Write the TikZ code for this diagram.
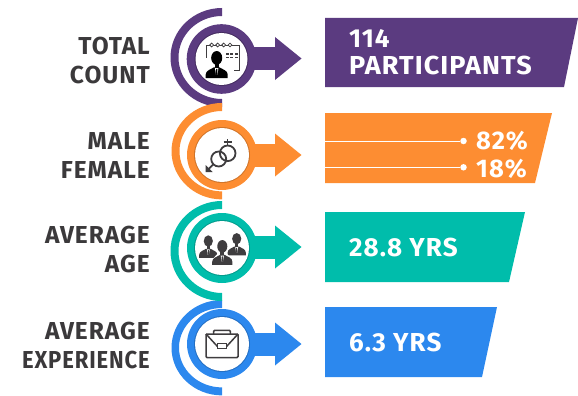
\documentclass[tikz,border=0pt]{standalone}
\usepackage{fontspec}
\setmainfont[LetterSpace=4]{Fira Sans}
\usetikzlibrary{calc}
\definecolor{cpurple}{HTML}{5B3B80}
\definecolor{corange}{HTML}{FD8D32}
\definecolor{cteal}{HTML}{00BDAB}
\definecolor{cblue}{HTML}{2C88EE}
\definecolor{cdark}{HTML}{3B393B}
\definecolor{cicon}{HTML}{3F3D3F}
\tikzset{
  labeltext/.style={font=\fontsize{24.5}{29}\selectfont\bfseries,text=cdark,align=right,anchor=east,inner sep=0pt},
  bartext/.style={font=\fontsize{26}{27}\selectfont\bfseries,text=white,align=left,anchor=west,inner sep=0pt},
  pct/.style={font=\fontsize{25.5}{29}\selectfont\bfseries,text=white,anchor=west,inner sep=0pt},
  whitedisc/.style={circle,fill=white,draw=none,minimum size=52pt,inner sep=0pt},
  leader/.style={draw=white,line width=0.8pt},
  dotmark/.style={circle,fill=white,minimum size=6.5pt,inner sep=0pt},
  iconline/.style={draw=cicon,line width=1.8pt},
  pics/bust/.style={code={
    \fill[#1] (0,-6.6) ellipse (4.8 and 6);
    \fill[#1] (-1.8,-2) rectangle (1.8,3);
    \fill[#1] (-9.6,11) -- (-9.6,8) .. controls (-9.6,4.2) and (-5,3.4) .. (-2.4,1.6) -- (2.4,1.6)
       .. controls (5,3.4) and (9.6,4.2) .. (9.6,8) -- (9.6,11) -- cycle;
    \fill[white] (-1.5,2.2) -- (1.5,2.2) -- (0.6,8) -- (-0.6,8) -- cycle;
    \fill[#1] (-0.5,3) -- (0.5,3) -- (0.7,7) -- (0,9) -- (-0.7,7) -- cycle;
  }},
  pics/busthalo/.style={code={
    \fill[white] (0,-6.6) ellipse (5.8 and 7);
    \fill[white] (-10.8,12) -- (-10.8,7) -- (-4,0) -- (4,0) -- (10.8,7) -- (10.8,12) -- cycle;
  }}
}
\newcommand{\rowarrow}[3]{% colour, ring x, axis y
  \fill[#1] (#2,#3-11.5) rectangle (275,#3+11.5);
  \fill[#1] (275,#3-21.5) -- (301.5,#3) -- (275,#3+21.5) -- cycle;
}
\begin{document}
\begin{tikzpicture}[x=1pt,y=-1pt]
\useasboundingbox (0,0) rectangle (578,396);
% outer arcs
\fill[cpurple] (222,8) arc[start angle=270,end angle=90,x radius=51.5,y radius=49.5]
   -- ++(0,-8) arc[start angle=90,end angle=270,x radius=43.5,y radius=41.5] -- cycle;
\fill[cblue] (222,300) arc[start angle=270,end angle=90,x radius=50.5,y radius=47.7]
   -- ++(0,-8) arc[start angle=90,end angle=270,x radius=43,y radius=39.7] -- cycle;
\fill[cteal] (222,201) arc[start angle=270,end angle=90,x radius=51.5,y radius=50]
   -- ++(0,-8) arc[start angle=90,end angle=270,x radius=43.5,y radius=42] -- cycle;
\fill[corange] (222,103) arc[start angle=270,end angle=90,x radius=50.5,y radius=48.2]
   -- ++(0,-8) arc[start angle=90,end angle=270,x radius=42.5,y radius=40.2] -- cycle;
% arrows
\rowarrow{cpurple}{221}{58.5}
\rowarrow{corange}{221}{155}
\rowarrow{cteal}{221}{247}
\rowarrow{cblue}{221}{344}
% rings
\fill[cpurple] (221.5,59) circle (34.8);
\fill[corange] (222,155) circle (35);
\fill[cteal] (222,248) circle (35);
\fill[cblue] (222,344) circle (35);
\fill[black!25!cpurple] (221.5,59) circle (27);
\fill[black!18!corange] (222,155) circle (28);
\fill[black!18!cteal] (222,248) circle (28);
\fill[black!18!cblue] (222,344) circle (28);
\node[whitedisc] (d1) at (221.5,59) {};
\node[whitedisc,minimum size=54pt] (d2) at (222,155) {};
\node[whitedisc,minimum size=54pt] (d3) at (222,248) {};
\node[whitedisc,minimum size=54pt] (d4) at (222,344) {};
% bars
\fill[cpurple] (325,18) -- (578,18) -- (564,87) -- (325,87) -- cycle;
\fill[corange] (325,113) -- (552,113) -- (535,183) -- (325,183) -- cycle;
\fill[cteal] (325,212) -- (525,212) -- (509,282) -- (325,282) -- cycle;
\fill[cblue] (325,307) -- (497,307) -- (482,377) -- (325,377) -- cycle;
% labels
\node[labeltext] (l1) at (150,61) {TOTAL\\COUNT};
\node[labeltext] (l2) at (150,156) {MALE\\FEMALE};
\node[labeltext] (l3) at (150,250) {AVERAGE\\AGE};
\node[labeltext] (l4) at (150,346) {AVERAGE\\\scalebox{0.9}[1]{EXPERIENCE}};
% bar text
\node[bartext] (b1) at (349,52.5) {114\\\scalebox{1.04}[1]{PARTICIPANTS}};
\node[bartext] (b3) at (349,247) {28.8 YRS};
\node[bartext] (b4) at (349,342) {6.3 YRS};
\node[pct] (p1) at (476,141) {82\%};
\node[pct] (p2) at (476,169) {18\%};
\node[dotmark] (m1) at (463.5,141) {};
\node[dotmark] (m2) at (463.5,167.3) {};
\coordinate (s1) at (325,141);
\coordinate (s2) at (325,167.3);
\draw[leader] (s1) -- (m1);
\draw[leader] (s2) -- (m2);
% calendar / person icon
\draw[cicon,line width=0.9pt] (206.7,58) -- (206.7,45) -- (239,45) -- (239,70.7) -- (234,70.7);
\foreach \a in {211.7,217.7,223.7,230} \draw[cicon,line width=0.8pt,fill=white] (\a,45) circle (1.9);
\foreach \a in {225.5,230,234.5} {\fill[cicon] (\a,53.5) rectangle (\a+3,55); \fill[cicon] (\a,57) rectangle (\a+3,58.5);}
\pic[scale=1.15] at (216.7,65.5) {bust=black};
% gender icon
\draw[iconline] (218.7,159) circle (7.5);
\draw[iconline] (227.7,153.3) circle (7.8);
\draw[iconline] (227.5,145.5) -- (227.5,138.5);
\draw[iconline] (223.5,141.7) -- (231.5,141.7);
\draw[iconline] (213.2,164.5) -- (206.5,171);
\fill[cicon] (205.5,165) -- (205.5,172) -- (212.5,172) -- cycle;
% people icon
\pic[scale=0.95] at (208.3,247.3) {bust=cicon};
\pic[scale=0.95] at (236.7,245) {bust=cicon};
\pic[scale=1.05] at (222.3,253.3) {busthalo};
\pic[scale=1.05] at (222.3,253.3) {bust=cicon};
% briefcase icon
\begin{scope}[shift={(222,344)},iconline/.append style={line width=1.5pt}]
  \draw[iconline,rounded corners=1pt] (-8.3,-10) -- (-8.3,-13.7) -- (8.3,-13.7) -- (8.3,-10);
  \draw[iconline,rounded corners=1pt] (-16,-10) rectangle (16,13.5);
  \draw[iconline] (-16,-10) -- (-5,2) -- (5,2) -- (16,-10);
  \draw[iconline,fill=white] (-4.7,-0.3) rectangle (4.7,4.3);
\end{scope}
\end{tikzpicture}
\end{document}
